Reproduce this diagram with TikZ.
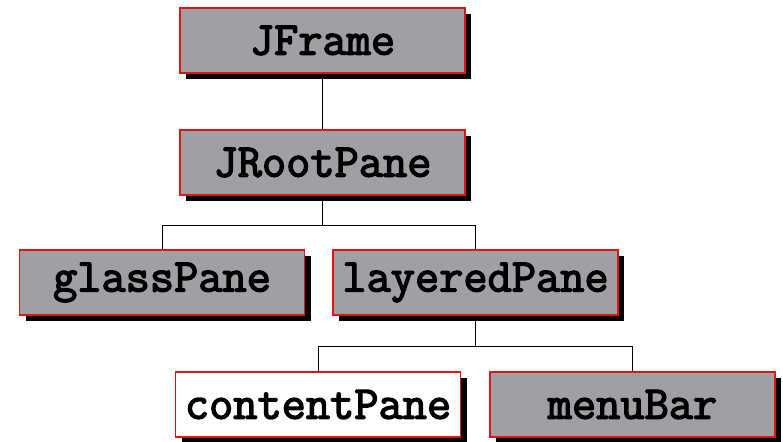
\documentclass[tikz,border=0pt]{standalone}
\usepackage{fontspec}
\newfontfamily\panefont{Latin Modern Mono}[FakeBold=3]
\usetikzlibrary{shadows}
\definecolor{panegray}{RGB}{160,159,164}
\definecolor{paneedge}{RGB}{225,20,20}
\tikzset{
  pane/.style={draw=paneedge, line width=1.2pt, fill=panegray,
    minimum width=285pt, minimum height=65pt, inner sep=0pt,
    font=\fontsize{47}{49}\panefont,
    general shadow={fill=black, shadow xshift=6pt, shadow yshift=-6pt}},
  openpane/.style={pane, fill=white},
  link/.style={draw=black, line width=1pt}
}
\begin{document}
\begin{tikzpicture}[x=1pt, y=1pt]
  \useasboundingbox (0,0) rectangle (783,441);
  \node[pane] (jf) at (322.5,400.5) {JFrame};
  \node[pane] (jr) at (322.5,278.5) {JRootPane};
  \node[pane] (gp) at (162,158.5) {glassPane};
  \node[pane] (lp) at (475.5,158.5) {layeredPane};
  \node[openpane] (cp) at (318,36.5) {contentPane};
  \node[pane] (mb) at (632.5,36.5) {menuBar};

  \draw[link] (jf.south) -- (jr.north);
  \draw[link] (jr.south) -- ++(0,-30) coordinate (bus1);
  \draw[link] (gp.north) |- (bus1) -| (lp.north);
  \draw[link] (lp.south) -- ++(0,-31) coordinate (bus2);
  \draw[link] (cp.north) |- (bus2) -| (mb.north);
\end{tikzpicture}
\end{document}
